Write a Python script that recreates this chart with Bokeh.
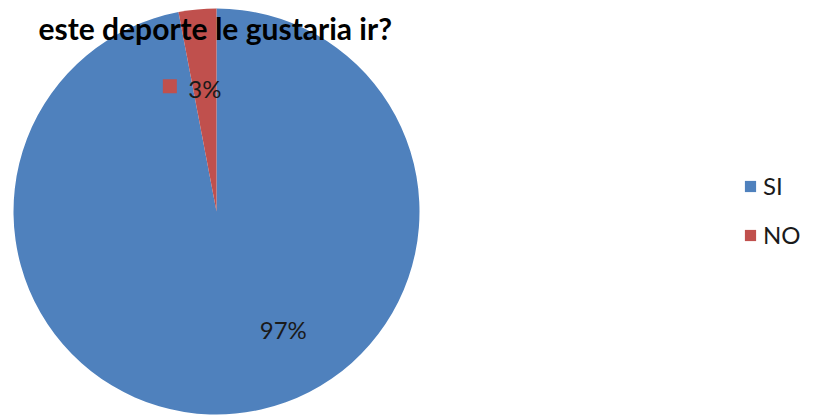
import math
from bokeh.plotting import figure
from bokeh.models import Range1d, ColumnDataSource, Legend, LegendItem
from bokeh.core.properties import value
from bokeh.embed import file_html
from bokeh.resources import INLINE

categories = ["SI", "NO"]
values = [97, 3]
colors = ["#4F81BD", "#C0504D"]
title_text = "este deporte le gustaria ir?"

W, H = 817, 416
cx, cy, r = 216, 205, 203
FONT = "Lato"

total = sum(values)
starts, ends, mids = [], [], []
acc = 0
for v in values:
    s = math.pi / 2 - 2 * math.pi * acc / total
    acc += v
    e = math.pi / 2 - 2 * math.pi * acc / total
    starts.append(s)
    ends.append(e)
    mids.append((s + e) / 2)

pct = [f"{round(v / total * 100)}%" for v in values]
label_shift = [math.radians(24), 0.0]
label_frac = [0.67, 0.61]
lx = [cx + f * r * math.cos(m + d) for m, d, f in zip(mids, label_shift, label_frac)]
ly = [cy + f * r * math.sin(m + d) for m, d, f in zip(mids, label_shift, label_frac)]

src = ColumnDataSource(dict(cat=categories, val=values, start=starts, end=ends,
                            color=colors, lx=lx, ly=ly, pct=pct))

p = figure(width=W, height=H, x_range=Range1d(0, W), y_range=Range1d(0, H),
           output_backend="svg", toolbar_location=None, min_border=0)
p.axis.visible = False
p.grid.visible = False
p.outline_line_color = None
p.background_fill_color = "white"
p.border_fill_color = "white"

wr = p.wedge(x=cx, y=cy, radius=r, start_angle="start", end_angle="end",
             direction="clock", fill_color="color", line_color=None, source=src)

p.text(x="lx", y="ly", text="pct", source=src, text_font=value(FONT),
       text_font_size="24px", text_color="#1a1a1a", text_align="center",
       text_baseline="middle")

# legend key shown next to the small slice label
key_x = [lx[1] - 35]
key_y = [ly[1] + 2]
p.rect(x=key_x, y=key_y, width=14, height=14, fill_color=colors[1], line_color=None)

p.text(x=[38], y=[H - 27], text=[title_text], text_font=value(FONT),
       text_font_size="30px", text_font_style="bold", text_color="black",
       text_align="left", text_baseline="middle")

legend = Legend(items=[LegendItem(label=c, renderers=[wr], index=i) for i, c in enumerate(categories)],
                location=(743, 167), orientation="vertical",
                glyph_width=14, glyph_height=14, label_height=14,
                label_standoff=6, spacing=20, padding=0, margin=0,
                border_line_color=None, background_fill_alpha=0,
                label_text_font=FONT, label_text_font_size="24px",
                label_text_color="#1a1a1a")
p.add_layout(legend, "center")

open("out.html", "w").write(file_html(p, INLINE))
